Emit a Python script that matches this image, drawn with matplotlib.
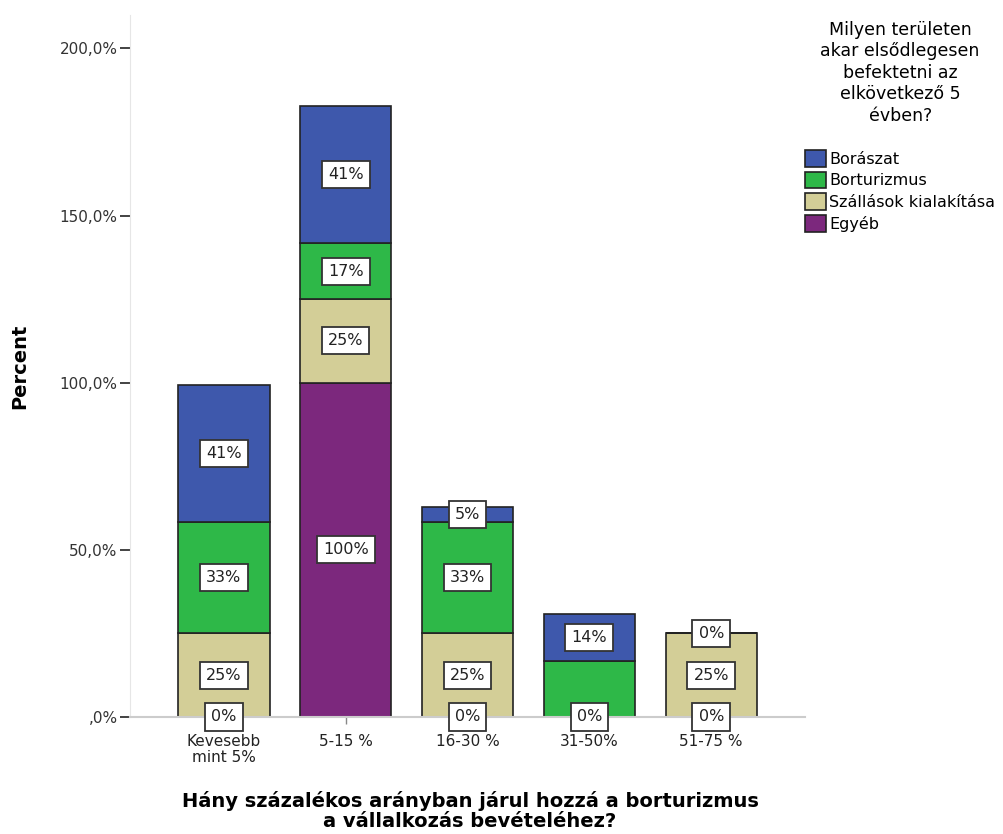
import matplotlib.pyplot as plt
import numpy as np

# categories (x axis)
categories = ['Kevesebb\nmint 5%', '5-15 %', '16-30 %', '31-50%', '51-75 %']

# stacked series, bottom to top
egyeb = [0, 100, 0, 0, 0]
szallas = [25, 25, 25, 0, 25]
bortur = [33.3, 16.7, 33.3, 16.7, 0]
boraszat = [41, 41, 4.5, 14, 0]

# segment labels (None = no label shown)
egyeb_lbl = ['0%', '100%', '0%', '0%', '0%']
szallas_lbl = ['25%', '25%', '25%', None, '25%']
bortur_lbl = ['33%', '17%', '33%', None, None]
boraszat_lbl = ['41%', '41%', '5%', '14%', '0%']

series = [
    ('Egyéb', egyeb, egyeb_lbl, '#7C287D'),
    ('Szállások kialakítása', szallas, szallas_lbl, '#D3CE97'),
    ('Borturizmus', bortur, bortur_lbl, '#2EB848'),
    ('Borászat', boraszat, boraszat_lbl, '#3E58AC'),
]

fig = plt.figure(figsize=(10.04, 8.34), dpi=100)
ax = fig.add_axes([0.1295, 0.1403, 0.6723, 0.8417])

x = np.arange(len(categories))
bottom = np.zeros(len(categories))
handles = {}
for name, vals, lbls, col in series:
    vals = np.array(vals, dtype=float)
    b = ax.bar(x, vals, 0.75, bottom=bottom, color=col, edgecolor='#222222',
               linewidth=1.2, zorder=2)
    handles[name] = b
    for i, lb in enumerate(lbls):
        if lb is None:
            continue
        yc = bottom[i] + vals[i] / 2
        ax.text(x[i], yc, lb, ha='center', va='center', fontsize=11.5,
                color='#222222', zorder=5,
                bbox=dict(boxstyle='square,pad=0.38', fc='white',
                          ec='#333333', lw=1.3))
    bottom += vals

ax.set_xlim(-0.77, 4.77)
ax.set_ylim(0, 210)
ax.set_yticks([0, 50, 100, 150, 200])
ax.set_yticklabels([',0%', '50,0%', '100,0%', '150,0%', '200,0%'])
ax.set_xticks(x)
ax.set_xticklabels(categories, fontsize=11, color='#222222', linespacing=1.1)
ax.tick_params(axis='y', labelsize=11, labelcolor='#333333', length=7,
               width=1.2, color='#222222', pad=2)
ax.tick_params(axis='x', length=5, width=1, color='#888888', pad=7)

for s in ['top', 'right']:
    ax.spines[s].set_visible(False)
ax.spines['left'].set_color('#e6e6e6')
ax.spines['bottom'].set_color('#cccccc')
ax.spines['bottom'].set_linewidth(1.5)

ax.set_ylabel('Percent', fontsize=14, fontweight='bold', labelpad=22)
fig.text(470 / 1004, 1 - 811 / 834,
         'Hány százalékos arányban járul hozzá a borturizmus\na vállalkozás bevételéhez?',
         ha='center', va='center', fontsize=14, fontweight='bold',
         linespacing=1.05)

order = ['Borászat', 'Borturizmus', 'Szállások kialakítása', 'Egyéb']
leg = fig.legend([handles[n] for n in order], order,
                 title='Milyen területen\nakar elsődlegesen\nbefektetni az\nelkövetkező 5\névben?',
                 loc='upper left', bbox_to_anchor=(0.802, 0.975), frameon=False,
                 fontsize=11.5, title_fontsize=12.5, handlelength=1.3,
                 handleheight=1.25, handletextpad=0.2, labelspacing=0.3,
                 borderaxespad=0, borderpad=0)
leg.get_title().set_multialignment('center')
leg.get_title().set_linespacing(1.25)
leg._legend_box.sep = 18

fig.savefig('out.png', dpi=100)
